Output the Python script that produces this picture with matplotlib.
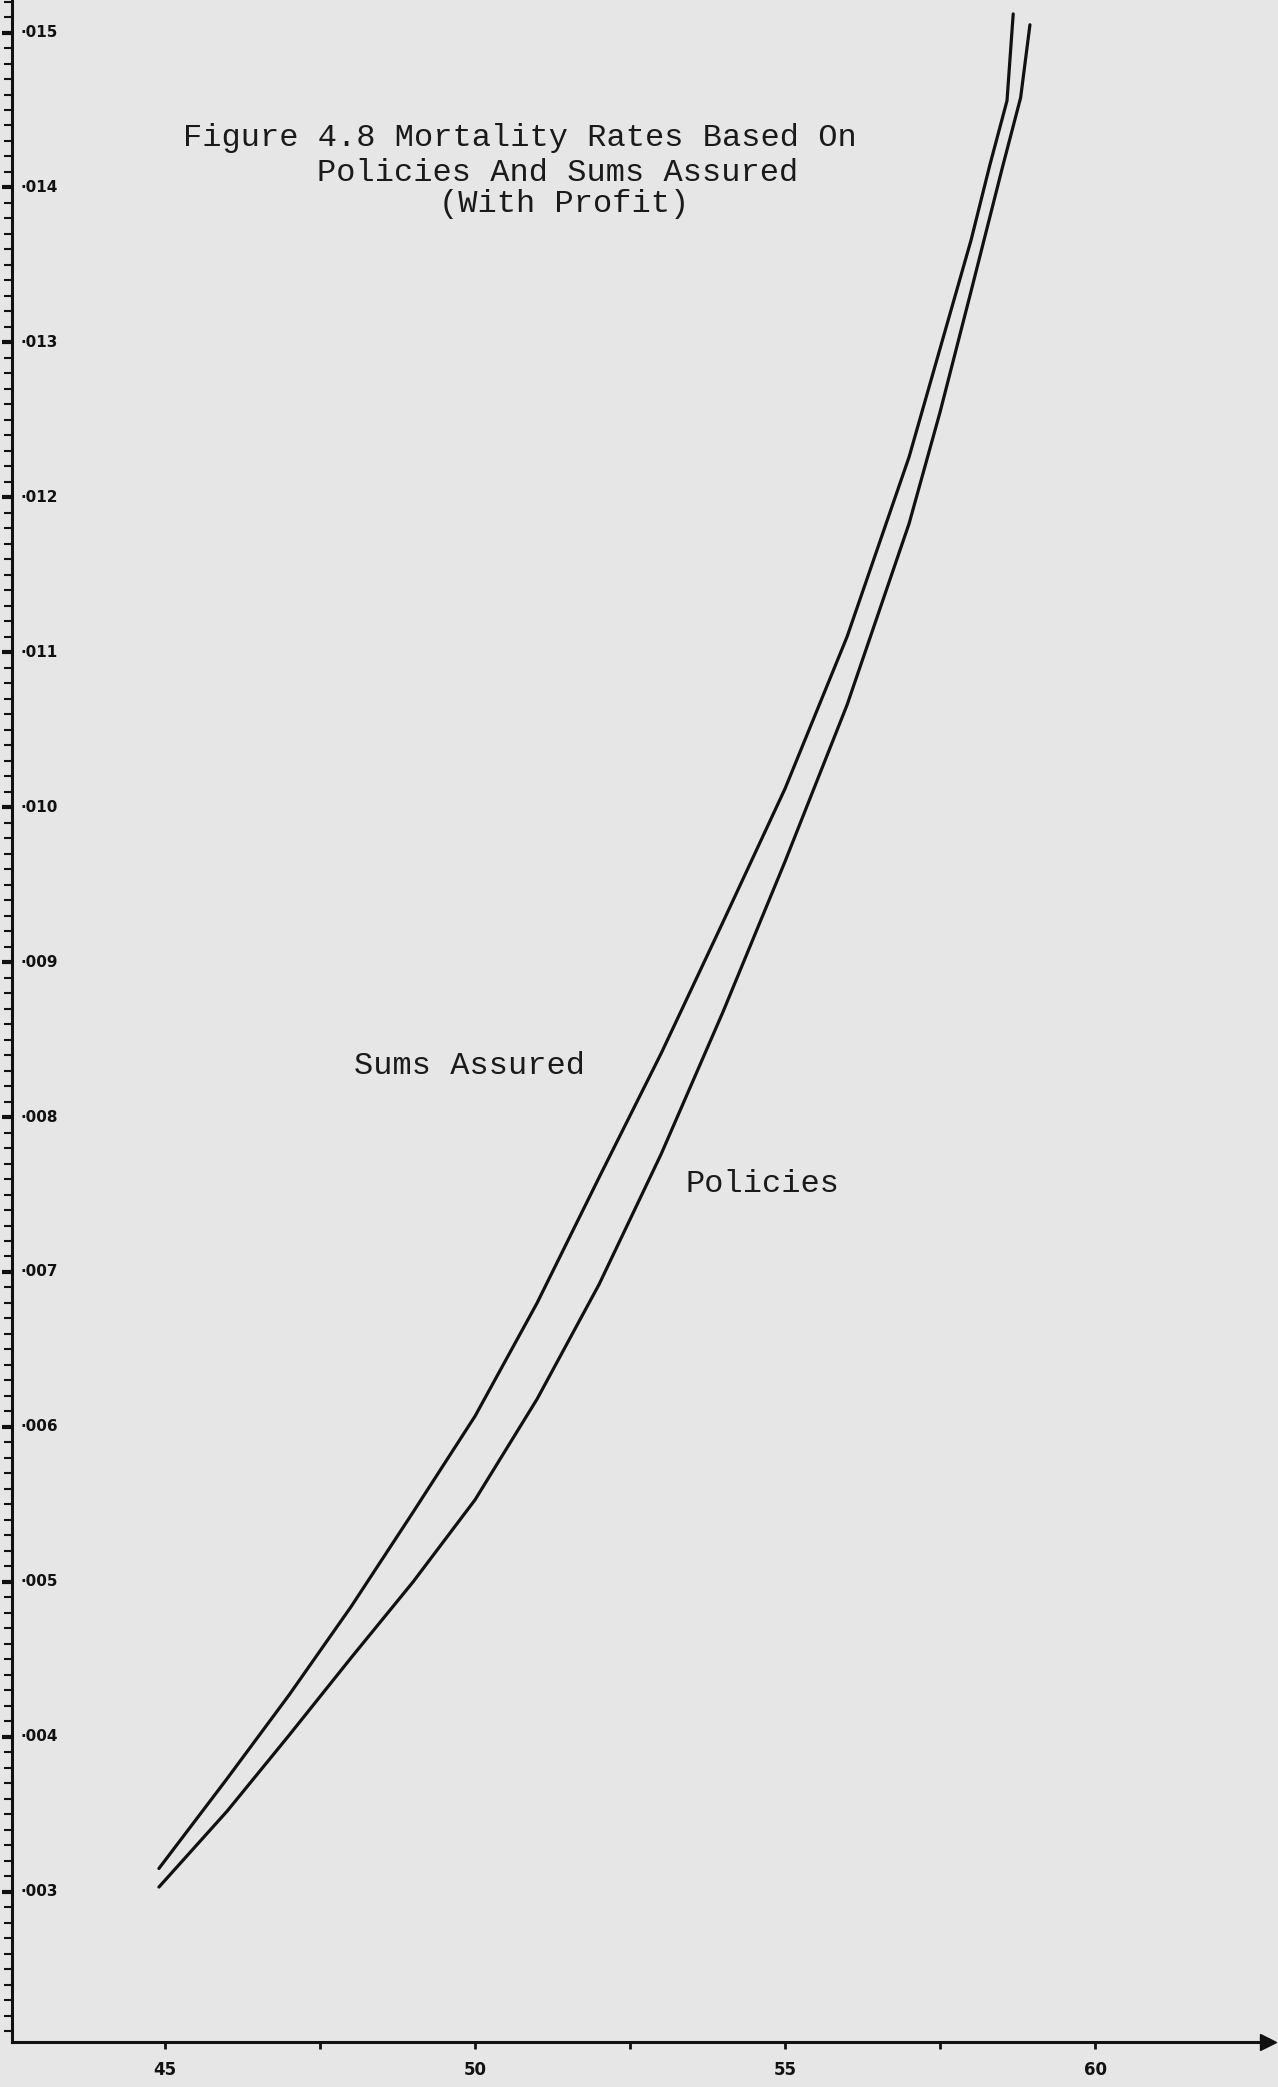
import matplotlib
matplotlib.use("Agg")
import matplotlib.pyplot as plt
import matplotlib.transforms as mtransforms
import numpy as np

# ---- data ----
sa_age = [44.9, 46, 47, 48, 49, 50, 51, 52, 53, 54, 55, 56, 57, 58,
          58.3, 58.58, 58.68]
sa_rate = [.00315, .00373, .00427, .00484, .00545, .00607, .00680, .00761,
           .00841, .00926, .01012, .01110, .01226, .01366, .01414, .01456,
           .01512]

pol_age = [44.9, 46, 47, 48, 49, 50, 51, 52, 53, 54, 55, 56, 57, 57.5, 58,
           58.5, 58.8, 58.95]
pol_rate = [.00303, .00352, .00401, .00451, .00500, .00553, .00618, .00692,
            .00776, .00868, .00965, .01066, .01183, .01255, .01333, .01412,
            .01458, .01505]

x_major = [45, 50, 55, 60]
x_major_labels = ["45", "50", "55", "60"]
x_minor = [47.5, 52.5, 57.5]

y_major = [.003, .004, .005, .006, .007, .008, .009, .010, .011, .012, .013, .014, .015]
y_major_labels = ["·003", "·004", "·005", "·006", "·007", "·008", "·009",
                  "·010", "·011", "·012", "·013", "·014", "·015"]
y_minor_step = 0.0001

title_lines = ["Figure 4.8 Mortality Rates Based On",
               "Policies And Sums Assured",
               "(With Profit)"]
series_labels = ["Sums Assured", "Policies"]

# ---- figure ----
W, H = 1278, 2087
bg = "#e6e6e6"
ink = "#111111"
fig = plt.figure(figsize=(W / 100, H / 100), dpi=100)
fig.patch.set_facecolor(bg)
ax = fig.add_axes([12 / W, 1 - 2042 / H, (1268 - 12) / W, 2042 / H])
ax.set_facecolor(bg)

ax.set_xlim(42.53, 62.79)
ax.set_ylim(0.00203, 0.01521)

for s in ["top", "right"]:
    ax.spines[s].set_visible(False)
for s in ["left", "bottom"]:
    ax.spines[s].set_linewidth(2.2)
    ax.spines[s].set_color(ink)

ax.plot(sa_age, sa_rate, color=ink, lw=2.3, solid_capstyle="round",
        solid_joinstyle="round")
ax.plot(pol_age, pol_rate, color=ink, lw=2.3, solid_capstyle="round",
        solid_joinstyle="round")

# x ticks
ax.set_xticks(x_major)
ax.set_xticklabels(x_major_labels, fontsize=12, fontweight="bold",
                   family="DejaVu Sans")
ax.set_xticks(x_minor, minor=True)
ax.tick_params(axis="x", which="both", direction="out", length=5, width=2,
               pad=9, colors=ink)

# y ticks
y_minor = np.arange(0.0021, 0.01521, y_minor_step)
ax.set_yticks(y_major)
ax.set_yticklabels([])
ax.set_yticks(y_minor, minor=True)
ax.tick_params(axis="y", which="major", direction="out", length=7, width=3,
               colors=ink)
ax.tick_params(axis="y", which="minor", direction="out", length=6, width=1.5,
               colors=ink)
trans = mtransforms.blended_transform_factory(ax.transAxes, ax.transData)
for v, lab in zip(y_major, y_major_labels):
    ax.text(0.007, v, lab, transform=trans, ha="left", va="center",
            fontsize=11, fontweight="bold", family="DejaVu Sans", color=ink)

# arrow at the end of x axis
ax.plot(1, 0, marker=">", color=ink, markersize=11,
        transform=ax.transAxes, clip_on=False)

# title (typewriter style)
mono = "Liberation Mono"
title_pos = [(0.136, 0.9324), (0.2428, 0.9153), (0.340, 0.9001)]
for (tx, ty), line in zip(title_pos, title_lines):
    ax.text(tx, ty, line, transform=ax.transAxes, ha="left", va="center",
            fontsize=23, family=mono, color="#1a1a1a")

ax.text(48.05, 0.00833, series_labels[0], ha="left", va="center",
        fontsize=23, family=mono, color="#1a1a1a")
ax.text(53.40, 0.00757, series_labels[1], ha="left", va="center",
        fontsize=23, family=mono, color="#1a1a1a")

fig.savefig("out.png", dpi=100, facecolor=bg)
